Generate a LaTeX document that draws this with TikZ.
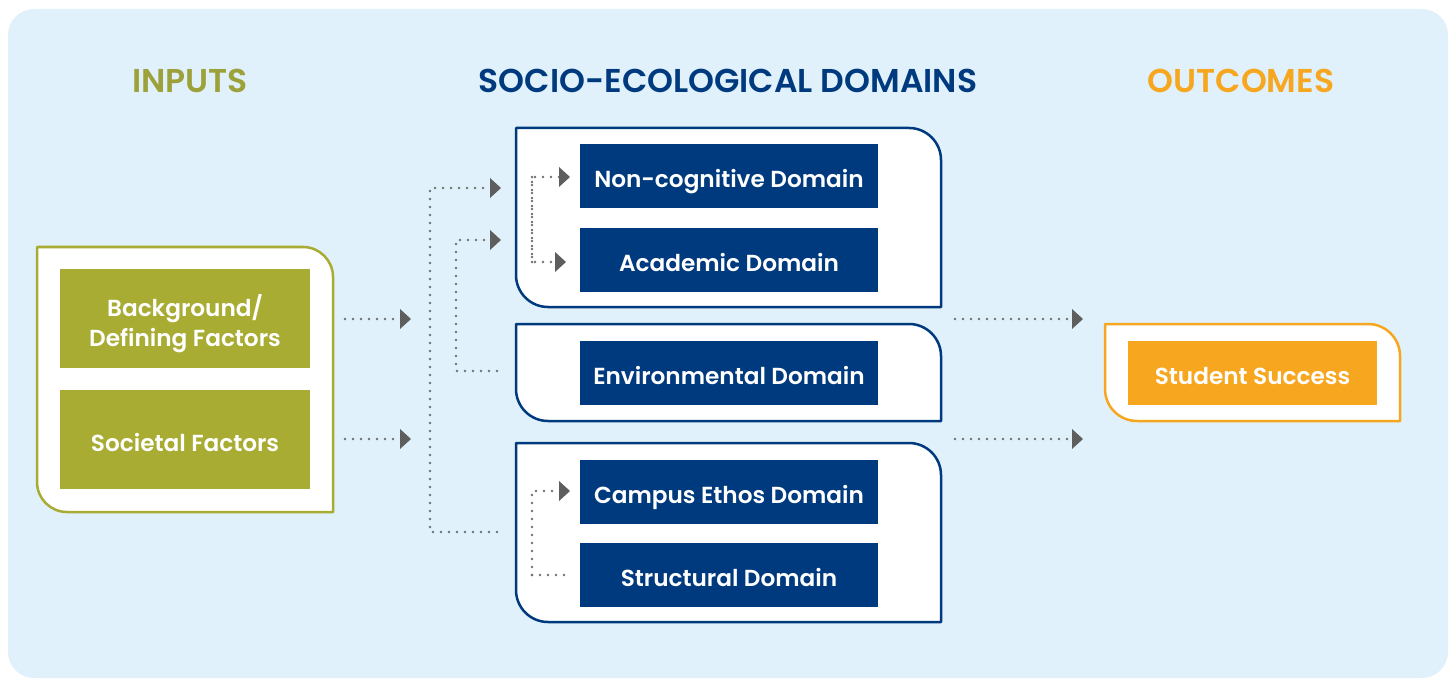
\documentclass[tikz,border=0pt]{standalone}
\usepackage{fontspec}
\setmainfont{Poppins}[BoldFont=* SemiBold]
\usetikzlibrary{arrows.meta}
\definecolor{bgblue}{HTML}{E0F1FB}
\definecolor{olivec}{HTML}{A8AC33}
\definecolor{oliveh}{HTML}{9CA13A}
\definecolor{navyc}{HTML}{003A7E}
\definecolor{orangec}{HTML}{F7A71F}
\definecolor{dotc}{HTML}{707070}
\definecolor{tipc}{HTML}{5E5E5E}
\newcommand\trblpanel[6]{%
  \draw[#1] (#2,#3) -- ({#4-#6},#3) .. controls ({#4-0.4477*#6},#3) and (#4,{#3+0.4477*#6}) .. (#4,{#3+#6})
   -- (#4,#5) -- ({#2+#6},#5) .. controls ({#2+0.4477*#6},#5) and (#2,{#5-0.4477*#6}) .. (#2,{#5-#6}) -- cycle;}
\begin{document}
\begin{tikzpicture}[x=1pt,y=-1pt,
  header/.style={font=\bfseries\fontsize{33}{38}\selectfont, inner sep=0pt},
  box/.style={text=white, inner sep=0pt, align=center, font=\bfseries\fontsize{23.2}{30}\selectfont,
    text height=23pt, text depth=0pt},
  olivebox/.style={box, fill=olivec, minimum width=250pt, minimum height=99pt},
  navybox/.style={box, fill=navyc, minimum width=298pt, minimum height=64pt},
  orangebox/.style={box, fill=orangec, minimum width=249pt, minimum height=64pt},
  dots/.style={dotc, line width=2.7pt, line cap=round, dash pattern=on 0pt off 8pt},
  tip/.style={-{Triangle[length=11pt,width=20pt,line width=0pt,fill=tipc,color=tipc]}},
  olivepanel/.style={draw=olivec, line width=2.5pt, fill=white, line join=round},
  navypanel/.style={draw=navyc, line width=2.5pt, fill=white, line join=round},
  orangepanel/.style={draw=orangec, line width=2.5pt, fill=white, line join=round}]
\useasboundingbox (0,0) rectangle (1451,679);
\fill[bgblue, rounded corners=26pt] (8,9) rectangle (1448,678);

% headers
\node[header, text=oliveh] (hin) at (190,80.5) {INPUTS};
\node[header, text=navyc] (hdom) at (728,80.5) {SOCIO-ECOLOGICAL DOMAINS};
\node[header, text=orangec] (hout) at (1241,80.5) {OUTCOMES};

% panels
\trblpanel{olivepanel}{37}{247}{333}{512}{30}
\trblpanel{navypanel}{516}{128}{941}{307}{32}
\trblpanel{navypanel}{516}{324}{941}{421}{32}
\trblpanel{navypanel}{516}{443}{941}{622}{32}
\trblpanel{orangepanel}{1105}{324}{1400}{421}{32}

% boxes
\node[olivebox, text height=, text depth=] (bg) at (185,318.5)
  {\raisebox{-6.5pt}[\height][\depth]{\begin{tabular}{@{}c@{}}Background/\\Defining Factors\end{tabular}}};
\node[olivebox] (soc) at (185,439.5) {Societal Factors};
\node[navybox] (noncog) at (729,176.5) {Non-cognitive Domain};
\node[navybox] (acad) at (729,260) {Academic Domain};
\node[navybox] (env) at (729,373) {Environmental Domain};
\node[navybox] (campus) at (729,491.5) {Campus Ethos Domain};
\node[navybox] (struct) at (729,575) {Structural Domain};
\node[orangebox] (succ) at (1252.5,373) {Student Success};

% connector points
\coordinate (a1s) at (345,319); \coordinate (a1e) at (411,319);
\coordinate (a2s) at (345,439); \coordinate (a2e) at (411,439);
\coordinate (c1s) at (497,532); \coordinate (c1a) at (430,532); \coordinate (c1b) at (430,188); \coordinate (c1e) at (501,188);
\coordinate (c2s) at (497,371); \coordinate (c2a) at (456,371); \coordinate (c2b) at (456,240); \coordinate (c2e) at (501,240);
\coordinate (p1a) at (532,177); \coordinate (p1t) at (570,177);
\coordinate (p1b) at (532,262); \coordinate (p1u) at (566,262);
\coordinate (p3a) at (532,491); \coordinate (p3t) at (570,491);
\coordinate (p3b) at (532,575); \coordinate (p3u) at (567,575);
\coordinate (r1s) at (955,319); \coordinate (r1e) at (1083,319);
\coordinate (r2s) at (955,439); \coordinate (r2e) at (1083,439);

% connectors
\draw[dots, tip] (a1s) -- (a1e);
\draw[dots, tip] (a2s) -- (a2e);
\draw[dots, tip] (c1s) -- (c1a) -- (c1b) -- (c1e);
\draw[dots, tip] (c2s) -- (c2a) -- (c2b) -- (c2e);
\draw[dots, tip] (p1b) -- (p1a) -- (p1t);
\draw[dots, tip] (p1a) -- (p1b) -- (p1u);
\draw[dots, tip] (p3b) -- (p3a) -- (p3t);
\draw[dots] (p3b) -- (p3u);
\draw[dots, tip] (r1s) -- (r1e);
\draw[dots, tip] (r2s) -- (r2e);
\end{tikzpicture}
\end{document}
